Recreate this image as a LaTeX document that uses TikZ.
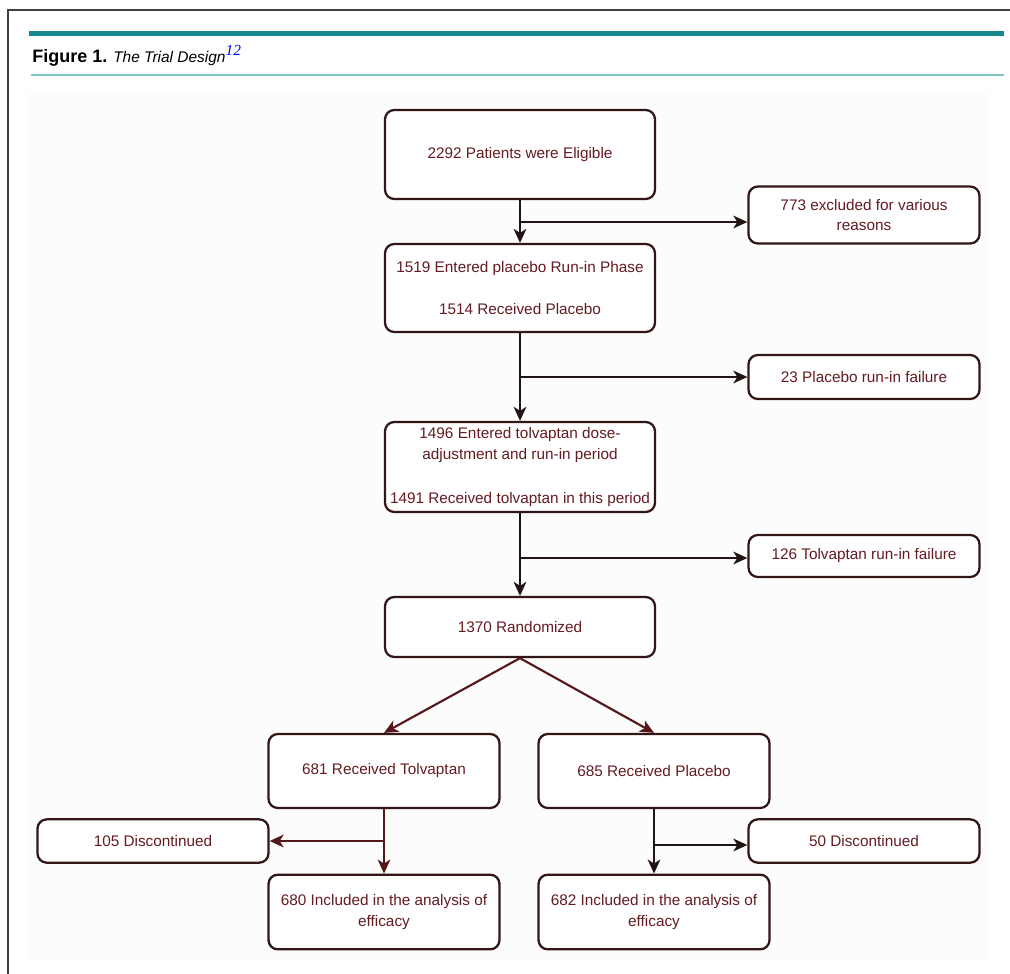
\documentclass[tikz,border=0pt]{standalone}
\usepackage{fontspec}
\setmainfont{Liberation Sans}
\newfontfamily\refserif{Liberation Serif}
\usepackage{xcolor}
\usetikzlibrary{arrows.meta, positioning, calc}

\definecolor{boxline}{RGB}{48,22,22}
\definecolor{boxtext}{RGB}{100,28,32}
\definecolor{arrline}{RGB}{32,20,20}
\definecolor{arrred}{RGB}{84,24,26}
\definecolor{tealbar}{RGB}{20,138,141}
\definecolor{teallight}{RGB}{128,196,196}

\tikzset{
  flowbox/.style={draw=boxline, line width=1.7pt, rounded corners=7pt, fill=white,
    text=boxtext, align=center, inner sep=2pt, font=\fontsize{11.5}{15.5}\selectfont},
  mainbox/.style={flowbox, minimum width=202.5pt},
  sidebox/.style={flowbox, minimum width=173.25pt},
  flowarrow/.style={-{Stealth[length=10.5pt,width=9.5pt,inset=3pt]}, draw=arrline, line width=1.6pt},
}

\begin{document}
\begin{tikzpicture}[x=0.75pt, y=-0.75pt]
    \useasboundingbox (0,0) rectangle (1010,974);
    % 外框
    \draw[line width=1.1pt, black!75] (8,974) -- (8,10) -- (1010,10);

    % 标题
    \fill[tealbar] (29,31) rectangle (1004,36);
    \node[anchor=base west, inner sep=0pt] (title) at (32,63)
        {{\fontsize{13.5}{15}\selectfont\bfseries Figure 1.}\hspace{4.5pt}%
         {\fontsize{11.6}{13}\selectfont\itshape The Trial Design}%
         \raisebox{5.5pt}{\fontsize{11.5}{13}\selectfont\refserif\itshape\color{blue}12}};
    \fill[teallight] (31,74) rectangle (1004,76);

    % 背景
    \fill[black!1] (28,92) rectangle (988,960);

    % 主流程
    \node[mainbox, minimum height=66.75pt] (eligible) at (520,154.5) {2292 Patients were Eligible};
    \node[mainbox, minimum height=66pt] (placebo) at (520,288)
        {1519 Entered placebo Run-in Phase\\[16pt]1514 Received Placebo};
    \node[mainbox, minimum height=67.5pt] (doseadj) at (520,467)
        {1496 Entered tolvaptan dose-\\adjustment and run-in period\\[17.5pt]1491 Received tolvaptan in this period};
    \node[mainbox, minimum height=45pt] (random) at (520,627) {1370 Randomized};

    % 右侧排除
    \node[sidebox, minimum height=42.75pt] (excluded) at (864,215) {773 excluded for various\\reasons};
    \node[sidebox, minimum height=33pt] (plfail) at (864,377) {23 Placebo run-in failure};
    \node[sidebox, minimum height=31.5pt] (tvfail) at (864,556) {126 Tolvaptan run-in failure};

    % 两组
    \node[sidebox, minimum height=55.5pt] (tolv) at (384,771) {681 Received Tolvaptan};
    \node[sidebox, minimum height=55.5pt] (plac) at (654,771) {685 Received Placebo};
    \node[sidebox, minimum height=32.5pt] (disctolv) at (153,841) {105 Discontinued};
    \node[sidebox, minimum height=32.5pt] (discplac) at (864,841) {50 Discontinued};
    \node[sidebox, minimum height=56pt] (efftolv) at (384,912) {680 Included in the analysis of\\efficacy};
    \node[sidebox, minimum height=56pt] (effplac) at (654,912) {682 Included in the analysis of\\efficacy};

    % 箭头
    \coordinate (j1) at (520,222);
    \coordinate (j2) at (520,377);
    \coordinate (j3) at (520,558);
    \coordinate (j4) at (384,841);
    \coordinate (j5) at (654,845);

    \draw[flowarrow] (eligible) -- (placebo);
    \draw[flowarrow] (j1) -- (j1 -| excluded.west);
    \draw[flowarrow] (placebo) -- (doseadj);
    \draw[flowarrow] (j2) -- (j2 -| plfail.west);
    \draw[flowarrow] (doseadj) -- (random);
    \draw[flowarrow] (j3) -- (j3 -| tvfail.west);

    \draw[flowarrow, draw=arrred] (random.south) -- (tolv.north);
    \draw[flowarrow, draw=arrred] (random.south) -- (plac.north);

    \draw[flowarrow, draw=arrred] (tolv) -- (efftolv);
    \draw[flowarrow, draw=arrred] (j4) -- (j4 -| disctolv.east);
    \draw[flowarrow] (plac) -- (effplac);
    \draw[flowarrow] (j5) -- (j5 -| discplac.west);
\end{tikzpicture}
\end{document}
